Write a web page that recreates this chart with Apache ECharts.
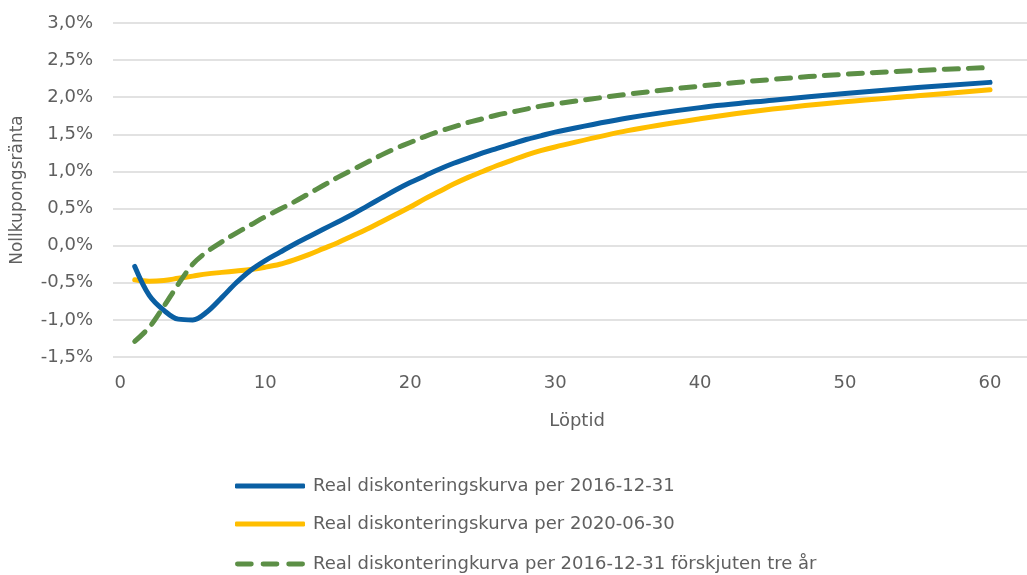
<!DOCTYPE html>
<html>
<head>
<meta charset="utf-8">
<script src="https://cdn.jsdelivr.net/npm/echarts@6/dist/echarts.min.js"></script>
<style>
html,body{margin:0;padding:0;background:#fff;}
#c{width:1027px;height:575px;}
</style>
</head>
<body>
<div id="c"></div>
<script>
const years = [1,2,3,4,5,6,7,8,9,10,11,12,13,14,15,16,17,18,19,20,21,22,23,24,25,26,27,28,29,30,35,40,45,50,55,60];
const xTicks = [0, 10, 20, 30, 40, 50, 60];
const seriesNames = [
  'Real diskonteringskurva per 2016-12-31',
  'Real diskonteringskurva per 2020-06-30',
  'Real diskonteringkurva per 2016-12-31 förskjuten tre år'
];
const curve2016 = [
  -0.28, -0.67, -0.87, -0.99, -1.00, -0.89, -0.70, -0.50, -0.33, -0.20,
  -0.09, 0.02, 0.12, 0.22, 0.32, 0.42, 0.53, 0.64, 0.75, 0.85,
  0.94, 1.03, 1.11, 1.18, 1.25, 1.31, 1.37, 1.43, 1.48, 1.53,
  1.72, 1.86, 1.96, 2.05, 2.13, 2.20
];
const curve2020 = [
  -0.46, -0.48, -0.47, -0.44, -0.41, -0.38, -0.36, -0.34, -0.32, -0.29,
  -0.25, -0.19, -0.12, -0.04, 0.04, 0.13, 0.22, 0.32, 0.42, 0.52,
  0.63, 0.73, 0.83, 0.92, 1.00, 1.08, 1.15, 1.22, 1.28, 1.33,
  1.55, 1.71, 1.84, 1.94, 2.02, 2.10
];
const curveShifted = [
  -1.29, -1.10, -0.82, -0.52, -0.25, -0.08, 0.05, 0.17, 0.28, 0.39,
  0.49, 0.59, 0.70, 0.81, 0.92, 1.02, 1.12, 1.22, 1.31, 1.39,
  1.47, 1.54, 1.60, 1.66, 1.71, 1.76, 1.80, 1.84, 1.88, 1.91,
  2.04, 2.15, 2.24, 2.31, 2.36, 2.40
];

const pair = arr => years.map((y, i) => [y, arr[i]]);
const font = '"DejaVu Sans", "Liberation Sans", sans-serif';
const txt = '#5f5f5f';
const colors = ['#0A5FA3', '#FFBE00', '#5C8F46'];
const dashIcon = 'path://M2,0h14a2,2 0 0 1 0,5h-14a2,2 0 0 1 0,-5z M28,0h14a2,2 0 0 1 0,5h-14a2,2 0 0 1 0,-5z M54,0h14a2,2 0 0 1 0,5h-14a2,2 0 0 1 0,-5z';

const legendBase = (name, top, icon) => ({
  orient: 'vertical',
  left: 230,
  top: top,
  itemWidth: 70,
  itemHeight: 5,
  itemGap: 0,
  icon: icon,
  textStyle: {color: txt, fontSize: 18, fontFamily: font, padding: [0, 0, 0, 3]},
  data: [name]
});

const chart = echarts.init(document.getElementById('c'), null, {renderer: 'canvas'});
chart.setOption({
  animation: false,
  backgroundColor: '#fff',
  textStyle: {fontFamily: font},
  grid: {left: 113, right: 0, top: 23, bottom: 218, containLabel: false},
  xAxis: {
    type: 'value',
    min: -0.5,
    max: 62.55,
    name: 'Löptid',
    nameLocation: 'middle',
    nameGap: 55,
    nameTextStyle: {color: txt, fontSize: 18, fontFamily: font, padding: [0, 0, 0, 14]},
    axisLine: {show: false},
    axisTick: {show: false},
    splitLine: {show: false},
    axisLabel: {
      customValues: xTicks,
      color: txt, fontSize: 18, fontFamily: font, margin: 17
    }
  },
  yAxis: {
    type: 'value',
    min: -1.5,
    max: 3.0,
    interval: 0.5,
    name: 'Nollkupongsränta',
    nameLocation: 'middle',
    nameRotate: 90,
    nameGap: 87,
    nameTextStyle: {color: txt, fontSize: 17, fontFamily: font},
    axisLine: {show: false},
    axisTick: {show: false},
    splitLine: {lineStyle: {color: '#d9d9d9', width: 1.5}},
    axisLabel: {
      color: txt, fontSize: 18, fontFamily: font, margin: 20,
      formatter: v => v.toFixed(1).replace('.', ',') + '%'
    }
  },
  legend: [
    legendBase(seriesNames[0], 472, 'roundRect'),
    legendBase(seriesNames[1], 510, 'roundRect'),
    legendBase(seriesNames[2], 550, dashIcon)
  ],
  series: [
    {
      name: seriesNames[0], type: 'line', data: pair(curve2016),
      smooth: 0.35, showSymbol: false, symbol: 'none', z: 3,
      color: colors[0],
      lineStyle: {color: colors[0], width: 5, cap: 'round', join: 'round'}
    },
    {
      name: seriesNames[1], type: 'line', data: pair(curve2020),
      smooth: 0.35, showSymbol: false, symbol: 'none', z: 2,
      color: colors[1],
      lineStyle: {color: colors[1], width: 5, cap: 'round', join: 'round'}
    },
    {
      name: seriesNames[2], type: 'line', data: pair(curveShifted),
      smooth: 0.35, showSymbol: false, symbol: 'none', z: 4,
      color: colors[2],
      lineStyle: {color: colors[2], width: 5, type: [14, 10], cap: 'round', join: 'round'}
    }
  ]
});
</script>
</body>
</html>
